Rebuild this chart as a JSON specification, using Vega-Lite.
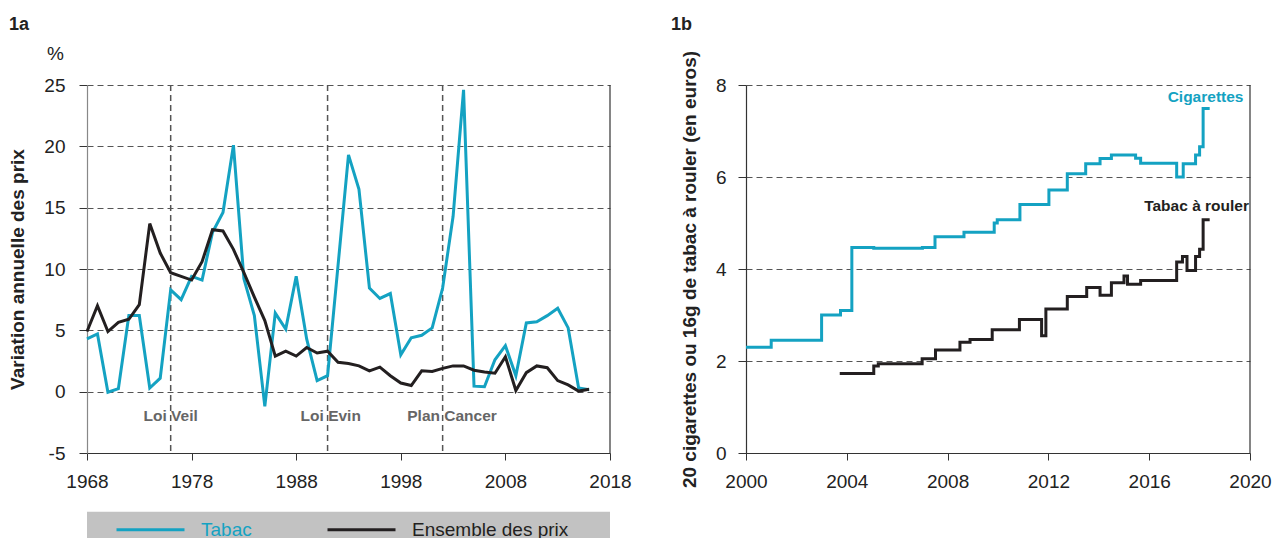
{
  "$schema": "https://vega.github.io/schema/vega-lite/v6.json",
  "background": "white",
  "padding": {"left": 8, "top": 16, "right": 4, "bottom": 0},
  "spacing": 38,
  "config": {
    "font": "Liberation Sans, Arial, sans-serif",
    "view": {"stroke": null},
    "axis": {
      "labelFontSize": 19,
      "labelColor": "#222",
      "labelFlush": false,
      "labelOverlap": false,
      "titleFontSize": 19,
      "titleFontWeight": "bold",
      "titleColor": "#222",
      "domainColor": "#333",
      "domainWidth": 1.2,
      "tickColor": "#333",
      "tickSize": 8,
      "gridColor": "#555",
      "gridDash": [6, 4],
      "gridWidth": 1
    }
  },
  "datasets": {
    "variation": [
      {"year": 1968, "serie": "Tabac", "v": 4.3},
      {"year": 1969, "serie": "Tabac", "v": 4.7},
      {"year": 1970, "serie": "Tabac", "v": -0.05},
      {"year": 1971, "serie": "Tabac", "v": 0.25},
      {"year": 1972, "serie": "Tabac", "v": 6.2},
      {"year": 1973, "serie": "Tabac", "v": 6.2},
      {"year": 1974, "serie": "Tabac", "v": 0.3},
      {"year": 1975, "serie": "Tabac", "v": 1.1},
      {"year": 1976, "serie": "Tabac", "v": 8.3},
      {"year": 1977, "serie": "Tabac", "v": 7.5},
      {"year": 1978, "serie": "Tabac", "v": 9.4},
      {"year": 1979, "serie": "Tabac", "v": 9.1},
      {"year": 1980, "serie": "Tabac", "v": 13.0},
      {"year": 1981, "serie": "Tabac", "v": 14.6},
      {"year": 1982, "serie": "Tabac", "v": 20.1},
      {"year": 1983, "serie": "Tabac", "v": 9.2},
      {"year": 1984, "serie": "Tabac", "v": 6.2},
      {"year": 1985, "serie": "Tabac", "v": -1.2},
      {"year": 1986, "serie": "Tabac", "v": 6.4},
      {"year": 1987, "serie": "Tabac", "v": 5.1},
      {"year": 1988, "serie": "Tabac", "v": 9.4},
      {"year": 1989, "serie": "Tabac", "v": 4.3},
      {"year": 1990, "serie": "Tabac", "v": 0.9},
      {"year": 1991, "serie": "Tabac", "v": 1.3},
      {"year": 1992, "serie": "Tabac", "v": 10.3},
      {"year": 1993, "serie": "Tabac", "v": 19.3},
      {"year": 1994, "serie": "Tabac", "v": 16.5},
      {"year": 1995, "serie": "Tabac", "v": 8.45},
      {"year": 1996, "serie": "Tabac", "v": 7.6},
      {"year": 1997, "serie": "Tabac", "v": 8.0},
      {"year": 1998, "serie": "Tabac", "v": 3.0},
      {"year": 1999, "serie": "Tabac", "v": 4.4},
      {"year": 2000, "serie": "Tabac", "v": 4.6},
      {"year": 2001, "serie": "Tabac", "v": 5.2},
      {"year": 2002, "serie": "Tabac", "v": 8.45},
      {"year": 2003, "serie": "Tabac", "v": 14.3},
      {"year": 2004, "serie": "Tabac", "v": 24.6},
      {"year": 2005, "serie": "Tabac", "v": 0.45},
      {"year": 2006, "serie": "Tabac", "v": 0.4},
      {"year": 2007, "serie": "Tabac", "v": 2.6},
      {"year": 2008, "serie": "Tabac", "v": 3.75},
      {"year": 2009, "serie": "Tabac", "v": 1.3},
      {"year": 2010, "serie": "Tabac", "v": 5.6},
      {"year": 2011, "serie": "Tabac", "v": 5.7},
      {"year": 2012, "serie": "Tabac", "v": 6.2},
      {"year": 2013, "serie": "Tabac", "v": 6.8},
      {"year": 2014, "serie": "Tabac", "v": 5.2},
      {"year": 2015, "serie": "Tabac", "v": 0.3},
      {"year": 2016, "serie": "Tabac", "v": 0.15},
      {"year": 1968, "serie": "Ensemble des prix", "v": 4.9},
      {"year": 1969, "serie": "Ensemble des prix", "v": 7.0},
      {"year": 1970, "serie": "Ensemble des prix", "v": 4.9},
      {"year": 1971, "serie": "Ensemble des prix", "v": 5.65},
      {"year": 1972, "serie": "Ensemble des prix", "v": 5.9},
      {"year": 1973, "serie": "Ensemble des prix", "v": 7.1},
      {"year": 1974, "serie": "Ensemble des prix", "v": 13.7},
      {"year": 1975, "serie": "Ensemble des prix", "v": 11.3},
      {"year": 1976, "serie": "Ensemble des prix", "v": 9.7},
      {"year": 1977, "serie": "Ensemble des prix", "v": 9.4},
      {"year": 1978, "serie": "Ensemble des prix", "v": 9.1},
      {"year": 1979, "serie": "Ensemble des prix", "v": 10.6},
      {"year": 1980, "serie": "Ensemble des prix", "v": 13.2},
      {"year": 1981, "serie": "Ensemble des prix", "v": 13.1},
      {"year": 1982, "serie": "Ensemble des prix", "v": 11.6},
      {"year": 1983, "serie": "Ensemble des prix", "v": 9.7},
      {"year": 1984, "serie": "Ensemble des prix", "v": 7.7},
      {"year": 1985, "serie": "Ensemble des prix", "v": 5.8},
      {"year": 1986, "serie": "Ensemble des prix", "v": 2.9},
      {"year": 1987, "serie": "Ensemble des prix", "v": 3.3},
      {"year": 1988, "serie": "Ensemble des prix", "v": 2.9},
      {"year": 1989, "serie": "Ensemble des prix", "v": 3.6},
      {"year": 1990, "serie": "Ensemble des prix", "v": 3.15},
      {"year": 1991, "serie": "Ensemble des prix", "v": 3.3},
      {"year": 1992, "serie": "Ensemble des prix", "v": 2.4},
      {"year": 1993, "serie": "Ensemble des prix", "v": 2.3},
      {"year": 1994, "serie": "Ensemble des prix", "v": 2.1},
      {"year": 1995, "serie": "Ensemble des prix", "v": 1.7},
      {"year": 1996, "serie": "Ensemble des prix", "v": 2.0},
      {"year": 1997, "serie": "Ensemble des prix", "v": 1.3},
      {"year": 1998, "serie": "Ensemble des prix", "v": 0.7},
      {"year": 1999, "serie": "Ensemble des prix", "v": 0.5},
      {"year": 2000, "serie": "Ensemble des prix", "v": 1.7},
      {"year": 2001, "serie": "Ensemble des prix", "v": 1.65},
      {"year": 2002, "serie": "Ensemble des prix", "v": 1.9},
      {"year": 2003, "serie": "Ensemble des prix", "v": 2.1},
      {"year": 2004, "serie": "Ensemble des prix", "v": 2.1},
      {"year": 2005, "serie": "Ensemble des prix", "v": 1.75},
      {"year": 2006, "serie": "Ensemble des prix", "v": 1.6},
      {"year": 2007, "serie": "Ensemble des prix", "v": 1.5},
      {"year": 2008, "serie": "Ensemble des prix", "v": 2.85},
      {"year": 2009, "serie": "Ensemble des prix", "v": 0.1},
      {"year": 2010, "serie": "Ensemble des prix", "v": 1.55},
      {"year": 2011, "serie": "Ensemble des prix", "v": 2.1},
      {"year": 2012, "serie": "Ensemble des prix", "v": 1.95},
      {"year": 2013, "serie": "Ensemble des prix", "v": 0.9},
      {"year": 2014, "serie": "Ensemble des prix", "v": 0.55},
      {"year": 2015, "serie": "Ensemble des prix", "v": 0.05},
      {"year": 2016, "serie": "Ensemble des prix", "v": 0.2}
    ],
    "events": [
      {"year": 1976, "label": "Loi Veil", "labelYear": 1976.0},
      {"year": 1991, "label": "Loi Evin", "labelYear": 1991.3},
      {"year": 2002, "label": "Plan Cancer", "labelYear": 2002.9}
    ],
    "prix": [
      {"date": 2000.0, "serie": "Cigarettes", "p": 2.3},
      {"date": 2001.0, "serie": "Cigarettes", "p": 2.45},
      {"date": 2003.0, "serie": "Cigarettes", "p": 3.0},
      {"date": 2003.75, "serie": "Cigarettes", "p": 3.1},
      {"date": 2004.2, "serie": "Cigarettes", "p": 4.47},
      {"date": 2005.07, "serie": "Cigarettes", "p": 4.45},
      {"date": 2007.0, "serie": "Cigarettes", "p": 4.47},
      {"date": 2007.5, "serie": "Cigarettes", "p": 4.7},
      {"date": 2008.65, "serie": "Cigarettes", "p": 4.8},
      {"date": 2009.85, "serie": "Cigarettes", "p": 5.0},
      {"date": 2009.97, "serie": "Cigarettes", "p": 5.07},
      {"date": 2010.87, "serie": "Cigarettes", "p": 5.4},
      {"date": 2012.02, "serie": "Cigarettes", "p": 5.72},
      {"date": 2012.75, "serie": "Cigarettes", "p": 6.07},
      {"date": 2013.48, "serie": "Cigarettes", "p": 6.29},
      {"date": 2014.05, "serie": "Cigarettes", "p": 6.4},
      {"date": 2014.5, "serie": "Cigarettes", "p": 6.48},
      {"date": 2015.46, "serie": "Cigarettes", "p": 6.41},
      {"date": 2015.66, "serie": "Cigarettes", "p": 6.3},
      {"date": 2017.09, "serie": "Cigarettes", "p": 6.0},
      {"date": 2017.35, "serie": "Cigarettes", "p": 6.29},
      {"date": 2017.84, "serie": "Cigarettes", "p": 6.48},
      {"date": 2018.0, "serie": "Cigarettes", "p": 6.66},
      {"date": 2018.14, "serie": "Cigarettes", "p": 7.49},
      {"date": 2018.4, "serie": "Cigarettes", "p": 7.49},
      {"date": 2003.72, "serie": "Tabac à rouler", "p": 1.73},
      {"date": 2005.07, "serie": "Tabac à rouler", "p": 1.89},
      {"date": 2005.25, "serie": "Tabac à rouler", "p": 1.94},
      {"date": 2006.99, "serie": "Tabac à rouler", "p": 2.05},
      {"date": 2007.52, "serie": "Tabac à rouler", "p": 2.24},
      {"date": 2008.49, "serie": "Tabac à rouler", "p": 2.41},
      {"date": 2008.89, "serie": "Tabac à rouler", "p": 2.47},
      {"date": 2009.77, "serie": "Tabac à rouler", "p": 2.68},
      {"date": 2010.85, "serie": "Tabac à rouler", "p": 2.9},
      {"date": 2011.73, "serie": "Tabac à rouler", "p": 2.55},
      {"date": 2011.9, "serie": "Tabac à rouler", "p": 3.13},
      {"date": 2012.75, "serie": "Tabac à rouler", "p": 3.4},
      {"date": 2013.52, "serie": "Tabac à rouler", "p": 3.6},
      {"date": 2014.05, "serie": "Tabac à rouler", "p": 3.43},
      {"date": 2014.5, "serie": "Tabac à rouler", "p": 3.7},
      {"date": 2015.0, "serie": "Tabac à rouler", "p": 3.85},
      {"date": 2015.14, "serie": "Tabac à rouler", "p": 3.67},
      {"date": 2015.66, "serie": "Tabac à rouler", "p": 3.75},
      {"date": 2017.09, "serie": "Tabac à rouler", "p": 4.15},
      {"date": 2017.32, "serie": "Tabac à rouler", "p": 4.27},
      {"date": 2017.5, "serie": "Tabac à rouler", "p": 3.97},
      {"date": 2017.84, "serie": "Tabac à rouler", "p": 4.27},
      {"date": 2018.0, "serie": "Tabac à rouler", "p": 4.43},
      {"date": 2018.14, "serie": "Tabac à rouler", "p": 5.07},
      {"date": 2018.4, "serie": "Tabac à rouler", "p": 5.07}
    ],
    "serieLabels": [
      {"serie": "Cigarettes", "date": 2019.74, "p": 7.75},
      {"serie": "Tabac à rouler", "date": 2019.96, "p": 5.36}
    ]
  },
  "hconcat": [
    {
      "width": 523,
      "height": 368,
      "layer": [
        {
          "data": {"values": [{"box": "legende"}]},
          "mark": {"type": "rect", "color": "#c2c2c2"},
          "encoding": {"x": {"datum": 1968}, "x2": {"datum": 2018}, "y": {"datum": -9.78}, "y2": {"datum": -13}}
        },
        {
          "data": {"name": "events"},
          "mark": {"type": "rule", "color": "#555", "strokeDash": [6, 4], "strokeWidth": 1.5},
          "encoding": {"x": {"field": "year", "type": "quantitative"}}
        },
        {
          "data": {"name": "events"},
          "mark": {"type": "text", "color": "#666", "fontWeight": "bold", "fontSize": 15.5, "align": "center", "baseline": "middle"},
          "encoding": {
            "x": {"field": "labelYear", "type": "quantitative"},
            "y": {"datum": -2.0},
            "text": {"field": "label"}
          }
        },
        {
          "data": {"name": "variation"},
          "mark": {"type": "line", "strokeWidth": 3},
          "encoding": {
            "x": {
              "field": "year", "type": "quantitative",
              "scale": {"domain": [1968, 2018], "nice": false, "zero": false},
              "axis": {"title": null, "values": [1968, 1978, 1988, 1998, 2008, 2018], "format": "d", "grid": false, "labelPadding": 12, "tickSize": 7}
            },
            "y": {
              "field": "v", "type": "quantitative",
              "scale": {"domain": [-5, 25], "nice": false},
              "axis": {"title": "Variation annuelle des prix", "values": [-5, 0, 5, 10, 15, 20, 25], "labelExpr": "'' + datum.value", "grid": true, "labelPadding": 14, "titlePadding": 16, "domainColor": "#888"}
            },
            "color": {
              "field": "serie", "type": "nominal",
              "scale": {"domain": ["Tabac", "Ensemble des prix"], "range": ["#14a2c2", "#231f20"]},
              "legend": {
                "title": null,
                "orient": "none",
                "legendX": 28,
                "legendY": 409,
                "direction": "horizontal",
                "padding": 0,
                "symbolType": "stroke",
                "symbolSize": 4624,
                "symbolStrokeWidth": 3,
                "labelFontSize": 19,
                "labelOffset": 15,
                "columnPadding": 69,
                "encode": {
                  "labels": {"update": {"fill": {"signal": "datum.value === 'Tabac' ? '#14a2c2' : '#231f20'"}}}
                }
              }
            }
          }
        },
        {
          "data": {"values": [{"edge": 2018}]},
          "mark": {"type": "rule", "color": "#333", "strokeWidth": 1.2},
          "encoding": {"x": {"field": "edge", "type": "quantitative"}}
        },
        {
          "data": {"values": [{"unit": "%"}]},
          "mark": {"type": "text", "fontSize": 19, "color": "#222", "align": "center", "baseline": "alphabetic"},
          "encoding": {"x": {"datum": 1964.99}, "y": {"datum": 27.06}, "text": {"field": "unit"}}
        },
        {
          "data": {"values": [{"panel": "1a"}]},
          "mark": {"type": "text", "fontSize": 18, "fontWeight": "bold", "color": "#222", "align": "left", "baseline": "alphabetic"},
          "encoding": {"x": {"datum": 1960.54}, "y": {"datum": 29.48}, "text": {"field": "panel"}}
        }
      ]
    },
    {
      "width": 504,
      "height": 368,
      "layer": [
        {
          "data": {"name": "prix"},
          "mark": {"type": "line", "strokeWidth": 3, "interpolate": "step-after"},
          "encoding": {
            "x": {
              "field": "date", "type": "quantitative",
              "scale": {"domain": [2000, 2020], "nice": false, "zero": false},
              "axis": {"title": null, "values": [2000, 2004, 2008, 2012, 2016, 2020], "format": "d", "grid": false, "labelPadding": 12, "tickSize": 7}
            },
            "y": {
              "field": "p", "type": "quantitative",
              "scale": {"domain": [0, 8], "nice": false},
              "axis": {"title": "20 cigarettes ou 16g de tabac à rouler (en euros)", "values": [0, 2, 4, 6, 8], "grid": true, "labelPadding": 12, "titlePadding": 16}
            },
            "color": {
              "field": "serie", "type": "nominal",
              "scale": {"domain": ["Cigarettes", "Tabac à rouler"], "range": ["#14a2c2", "#231f20"]},
              "legend": null
            }
          }
        },
        {
          "data": {"name": "serieLabels"},
          "mark": {"type": "text", "fontSize": 15.5, "fontWeight": "bold", "align": "right", "baseline": "middle"},
          "encoding": {
            "x": {"field": "date", "type": "quantitative"},
            "y": {"field": "p", "type": "quantitative"},
            "text": {"field": "serie"},
            "color": {"field": "serie", "type": "nominal", "scale": {"domain": ["Cigarettes", "Tabac à rouler"], "range": ["#14a2c2", "#231f20"]}, "legend": null}
          }
        },
        {
          "data": {"values": [{"edge": 2020}]},
          "mark": {"type": "rule", "color": "#333", "strokeWidth": 1.2},
          "encoding": {"x": {"field": "edge", "type": "quantitative"}}
        },
        {
          "data": {"values": [{"panel": "1b"}]},
          "mark": {"type": "text", "fontSize": 18, "fontWeight": "bold", "color": "#222", "align": "left", "baseline": "alphabetic"},
          "encoding": {"x": {"datum": 1997.02}, "y": {"datum": 9.19}, "text": {"field": "panel"}}
        }
      ]
    }
  ],
  "resolve": {"scale": {"color": "independent"}, "legend": {"color": "independent"}}
}
